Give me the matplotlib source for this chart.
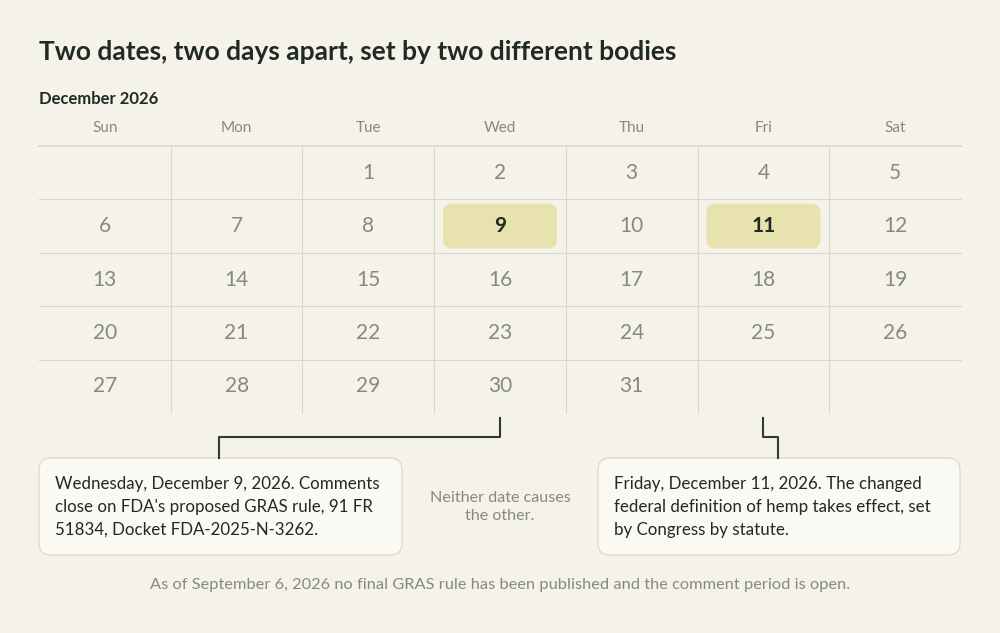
"""December 2026 calendar with two highlighted dates."""
import calendar

import matplotlib.pyplot as plt
from matplotlib.patches import FancyBboxPatch

FONT = "Lato"
BG = "#F5F2EA"
GRID = "#DAD8CB"
MUTED = "#858A80"
DARK = "#1F2A24"
HILITE = "#E8E3AE"

YEAR, MONTH = 2026, 12
DAY_NAMES = ["Sun", "Mon", "Tue", "Wed", "Thu", "Fri", "Sat"]
HIGHLIGHT_DAYS = [9, 11]
NOTE_LEFT = ("Wednesday, December 9, 2026. Comments\nclose on FDA's proposed GRAS rule, 91 FR\n"
             "51834, Docket FDA-2025-N-3262.")
NOTE_RIGHT = ("Friday, December 11, 2026. The changed\nfederal definition of hemp takes effect, set\n"
              "by Congress by statute.")
NOTE_MID = "Neither date causes\nthe other."
FOOTNOTE = "As of September 6, 2026 no final GRAS rule has been published and the comment period is open."

fig = plt.figure(figsize=(10, 6.33), dpi=100)
fig.patch.set_facecolor(BG)
ax = fig.add_axes([0, 0, 1, 1])
ax.set_xlim(0, 1000)
ax.set_ylim(633, 0)
ax.axis("off")

ax.text(39, 52, "Two dates, two days apart, set by two different bodies",
        fontsize=19, fontweight="bold", color=DARK, family=FONT, va="center")
ax.text(39, 99, "December 2026", fontsize=12, fontweight="bold",
        color=DARK, family=FONT, va="center")

# grid geometry
X0, X1 = 39, 961
TOP, ROW_H = 146, 53.4
col_w = (X1 - X0) / 7
weeks = calendar.Calendar(firstweekday=6).monthdayscalendar(YEAR, MONTH)
bottom = TOP + ROW_H * len(weeks)

for i, name in enumerate(DAY_NAMES):
    ax.text(X0 + (i + 0.5) * col_w, 128, name, ha="center", va="center",
            fontsize=11, color=MUTED, family=FONT)

for r in range(len(weeks)):
    y = TOP + r * ROW_H
    ax.plot([X0, X1], [y, y], color=GRID, lw=1.2 if r == 0 else 0.8)
for c in range(1, 7):
    x = X0 + c * col_w
    ax.plot([x, x], [TOP, bottom], color=GRID, lw=0.8)

centers = {}
for r, week in enumerate(weeks):
    for c, day in enumerate(week):
        if day == 0:
            continue
        cx = X0 + (c + 0.5) * col_w
        cy = TOP + (r + 0.5) * ROW_H
        centers[day] = (cx, cy)
        if day in HIGHLIGHT_DAYS:
            ax.add_patch(FancyBboxPatch((cx - 57, cy - 22.5), 114, 45,
                                        boxstyle="round,pad=0,rounding_size=9",
                                        facecolor=HILITE, edgecolor="none"))
            ax.text(cx, cy, str(day), ha="center", va="center", fontsize=15,
                    fontweight="bold", color=DARK, family=FONT)
        else:
            ax.text(cx, cy, str(day), ha="center", va="center", fontsize=15,
                    color=MUTED, family=FONT)

# connectors
lx = centers[HIGHLIGHT_DAYS[0]][0]
rx = centers[HIGHLIGHT_DAYS[1]][0]
ax.plot([lx, lx, 219, 219], [418, 437, 437, 458], color="#2E3A32", lw=1.5)
ax.plot([rx, rx, 778, 778], [418, 437, 437, 458], color="#2E3A32", lw=1.5)

# note boxes
for x, w, txt in [(39, 363, NOTE_LEFT), (598, 362, NOTE_RIGHT)]:
    ax.add_patch(FancyBboxPatch((x, 458), w, 97,
                                boxstyle="round,pad=0,rounding_size=12",
                                facecolor="#FBF9F3", edgecolor="#DEDCCB", lw=1))
    ax.text(x + 16, 507, txt, ha="left", va="center", fontsize=12.2,
            color=DARK, family=FONT, linespacing=1.5)

ax.text(500, 507, NOTE_MID, ha="center", va="center", fontsize=11.6,
        color=MUTED, family=FONT, linespacing=1.45)
ax.text(500, 585, FOOTNOTE, ha="center", va="center", fontsize=11.8,
        color=MUTED, family=FONT)

fig.savefig("out.png", dpi=100, facecolor=BG)
